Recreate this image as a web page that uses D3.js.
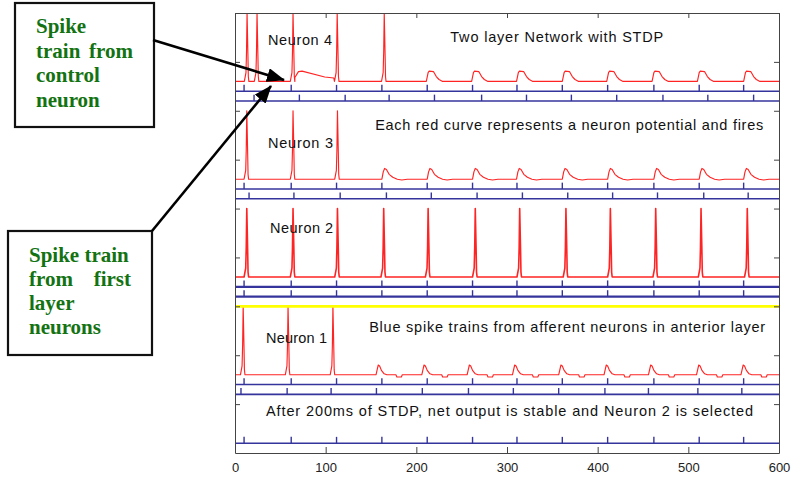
<!DOCTYPE html>
<html>
<head>
<meta charset="utf-8">
<script src="https://cdn.jsdelivr.net/npm/d3@7"></script>
<style>
    body { margin: 0; background: #fff; }
    svg { display: block; }
    .axis text { font-family: "Liberation Sans", Arial, sans-serif; font-size: 13px; fill: #222; }
    .axis path, .axis line { stroke: #444; }
    .note { font-family: "Liberation Sans", Arial, sans-serif; font-size: 14.5px; fill: #111; }
    .callout { font-family: "Liberation Serif", "Times New Roman", serif; font-weight: bold; font-size: 21px; fill: #137313; }
</style>
</head>
<body>
<div id="chart"></div>
<script>
// Afferent spike trains (ms)
let trainA = [10, 62, 112, 162, 212, 262, 311, 361, 411, 462, 512, 561];
let trainB = [6.6, 57.5, 106, 156, 206.6, 257.5, 307, 357, 408, 456, 510.5, 559];
let trainC = [21, 71, 121.5, 170, 220, 272, 321.5, 371, 421, 472, 521.5, 572];
let trainD = [15.5, 65, 116, 167, 216.5, 267, 317, 367, 416.5, 466, 517, 566];

// raster rows, bottom panel first: which train sits on which level
let rasterTrains = [trainA, trainB, trainA, trainA, trainA, trainD, trainA, trainC, trainA];
let rasterLevels = [0.2, 1.2, 1.4, 3.2, 3.4, 5.2, 5.4, 7.2, 7.4];

// output neurons: resting level, firing times, sub-threshold bump onsets
let restLevels = [1.6, 3.6, 5.6, 7.6];
let neuronSpikes = [
    [9, 58.5, 108],
    [13, 64, 113, 164, 213, 265, 314, 365, 414, 464, 514, 565],
    [13, 64, 113],
    [13.3, 24.3, 64, 112.7, 164.6]
];
let neuronBumps = [
    [155.5, 206, 256, 306, 357, 407, 456, 509, 558],
    [],
    [162, 212, 262, 310.5, 361, 411, 462, 512, 561],
    [211, 261, 310.5, 361, 410, 460, 510, 561]
];
// slow depolarisation of neuron 4 between its 64 and 112 ms spikes [ms, above rest]
let neuron4Plateau = [[66, 0.08], [70, 0.2], [74, 0.21], [99, 0.09], [109, 0.07]];

// waveform pieces [ms offset, height above rest]
let spikeShape = [[-3, 0], [-1.2, 0.18], [-0.6, 0.6], [0, 1.4], [1, 0.5], [1.4, 0.1], [2, 0]];
let bumpShapes = [
    [[0, 0], [1.5, 0.12], [2.5, 0.2], [4, 0.18], [6, 0.09], [9, 0.02], [12, 0], [22, 0], [23, -0.045], [28, -0.045], [29, 0]],
    [],
    [[0, 0], [1.5, 0.15], [3, 0.22], [5, 0.2], [8, 0.1], [12, 0.04], [17, 0], [22, -0.015], [28, 0]],
    [[0, 0], [2, 0.18], [3, 0.21], [8, 0.2], [11, 0.1], [14, 0.04], [18, 0]]
];
let selectedLevel = 3;

let xTicks = [0, 100, 200, 300, 400, 500, 600];
let yTicks = [1, 2, 3, 4, 5, 6, 7, 8];

let notes = [
    "Neuron 4", "Two layer Network with STDP",
    "Each red curve represents a neuron potential and fires", "Neuron 3",
    "Neuron 2",
    "Blue spike trains from afferent neurons in anterior layer", "Neuron 1",
    "After 200ms of STDP, net output is stable and Neuron 2 is selected"
];


let margin = {top: 13, right: 15, bottom: 27, left: 235};
let width = 794 - margin.left - margin.right;
let height = 480 - margin.top - margin.bottom;

let root = d3.select("#chart").append("svg")
    .attr("width", 794)
    .attr("height", 480);

let svg = root.append("g")
    .attr("transform", "translate(" + margin.left + "," + margin.top + ")");

// Scales
let x = d3.scaleLinear().domain([0, 600]).range([0, width]);
let y = d3.scaleLinear().domain([0, 9]).range([height, 0]);

svg.append("clipPath")
    .attr("id", "plot-clip")
    .append("rect")
    .attr("width", width)
    .attr("height", height);

let plot = svg.append("g").attr("clip-path", "url(#plot-clip)");

// Red membrane potential traces
let line = d3.line()
    .x(d => x(d[0]))
    .y(d => y(d[1]));

restLevels.forEach((rest, i) => {
    let pts = [[0, 0], [600, 0]];
    neuronSpikes[i].forEach(s => spikeShape.forEach(p => pts.push([s + p[0], p[1]])));
    neuronBumps[i].forEach(b => bumpShapes[i].forEach(p => pts.push([b + p[0], p[1]])));
    if (i === 3) neuron4Plateau.forEach(p => pts.push(p));
    pts.sort((a, b) => a[0] - b[0]);

    plot.append("path")
        .datum(pts.map(p => [p[0], rest + p[1]]))
        .attr("d", line)
        .attr("fill", "none")
        .attr("stroke", "#ff2424")
        .attr("stroke-width", i === 1 ? 1.6 : 1.15)
        .attr("stroke-linejoin", "round");
});

// Blue raster rows
rasterLevels.forEach((level, i) => {
    let w = (i === 3 || i === 4) ? 2.2 : 1.6;
    let row = plot.append("g").attr("class", "raster");

    row.append("line")
        .attr("x1", x(0))
        .attr("x2", x(600))
        .attr("y1", y(level))
        .attr("y2", y(level))
        .attr("stroke", "#34349c")
        .attr("stroke-width", w);

    row.selectAll(".spike")
        .data(rasterTrains[i])
        .enter()
        .append("line")
        .attr("class", "spike")
        .attr("x1", d => x(d))
        .attr("x2", d => x(d))
        .attr("y1", y(level))
        .attr("y2", y(level + 0.13))
        .attr("stroke", "#34349c")
        .attr("stroke-width", 1.4);
});

// Yellow line marking the selected neuron
plot.append("line")
    .attr("x1", x(0))
    .attr("x2", x(600))
    .attr("y1", y(selectedLevel))
    .attr("y2", y(selectedLevel))
    .attr("stroke", "#ffff00")
    .attr("stroke-width", 2.6);

// Axes (MATLAB style box with inward ticks)
svg.append("g")
    .attr("class", "axis")
    .attr("transform", "translate(0," + height + ")")
    .call(d3.axisBottom(x).tickValues(xTicks).tickSizeInner(-6).tickSizeOuter(0).tickPadding(10));

svg.append("g")
    .attr("class", "axis")
    .call(d3.axisTop(x).tickValues(xTicks).tickSizeInner(-5).tickSizeOuter(0).tickFormat(""));

svg.append("g")
    .attr("class", "axis")
    .call(d3.axisLeft(y).tickValues(yTicks).tickSizeInner(-5).tickSizeOuter(0).tickFormat(""));

svg.append("g")
    .attr("class", "axis")
    .attr("transform", "translate(" + width + ",0)")
    .call(d3.axisRight(y).tickValues(yTicks).tickSizeInner(-5).tickSizeOuter(0).tickFormat(""));

// Text notes inside the axes, placed in data units
let notePlace = [
    {x: 36.4, y: 8.34, w: 64},
    {x: 237.4, y: 8.40, w: 213},
    {x: 154.6, y: 6.61, w: 388},
    {x: 36.4, y: 6.24, w: 65},
    {x: 38.7, y: 4.50, w: 63},
    {x: 148, y: 2.47, w: 396},
    {x: 34.2, y: 2.25, w: 61},
    {x: 34.2, y: 0.76, w: 487}
];

svg.selectAll(".note")
    .data(notes)
    .enter()
    .append("text")
    .attr("class", "note")
    .attr("x", (d, i) => x(notePlace[i].x))
    .attr("y", (d, i) => y(notePlace[i].y))
    .attr("textLength", (d, i) => notePlace[i].w)
    .attr("lengthAdjust", "spacing")
    .text(d => d);

// Callout boxes with arrows
let defs = root.append("defs");
defs.append("marker")
    .attr("id", "head")
    .attr("markerUnits", "userSpaceOnUse")
    .attr("viewBox", "0 0 18 14")
    .attr("markerWidth", 18)
    .attr("markerHeight", 14)
    .attr("refX", 17)
    .attr("refY", 7)
    .attr("orient", "auto")
    .append("path")
    .attr("d", "M0,0L18,7L0,14Z")
    .attr("fill", "#000");

let boxes = [
    {x: 15, y: 3, w: 139, h: 124},
    {x: 8, y: 231, w: 144, h: 124}
];
root.selectAll(".box")
    .data(boxes)
    .enter()
    .append("rect")
    .attr("class", "box")
    .attr("x", d => d.x)
    .attr("y", d => d.y)
    .attr("width", d => d.w)
    .attr("height", d => d.h)
    .attr("fill", "#fff")
    .attr("stroke", "#111")
    .attr("stroke-width", 2.2);

let calloutWords = [
    {t: "Spike", x: 36, y: 33},
    {t: "train", x: 36, y: 58},
    {t: "from", x: 133, y: 58, end: true},
    {t: "control", x: 36, y: 82},
    {t: "neuron", x: 36, y: 107},
    {t: "Spike train", x: 29, y: 262},
    {t: "from", x: 29, y: 286},
    {t: "first", x: 131, y: 286, end: true},
    {t: "layer", x: 29, y: 310},
    {t: "neurons", x: 29, y: 334}
];
root.selectAll(".callout")
    .data(calloutWords)
    .enter()
    .append("text")
    .attr("class", "callout")
    .attr("x", d => d.x)
    .attr("y", d => d.y)
    .attr("text-anchor", d => d.end ? "end" : "start")
    .text(d => d.t);

let arrows = [
    {x1: 153, y1: 40, x2: 284, y2: 80},
    {x1: 152, y1: 231, x2: 271, y2: 86}
];
root.selectAll(".arrow")
    .data(arrows)
    .enter()
    .append("line")
    .attr("class", "arrow")
    .attr("x1", d => d.x1)
    .attr("y1", d => d.y1)
    .attr("x2", d => d.x2)
    .attr("y2", d => d.y2)
    .attr("stroke", "#000")
    .attr("stroke-width", 2.6)
    .attr("marker-end", "url(#head)");
</script>
</body>
</html>
